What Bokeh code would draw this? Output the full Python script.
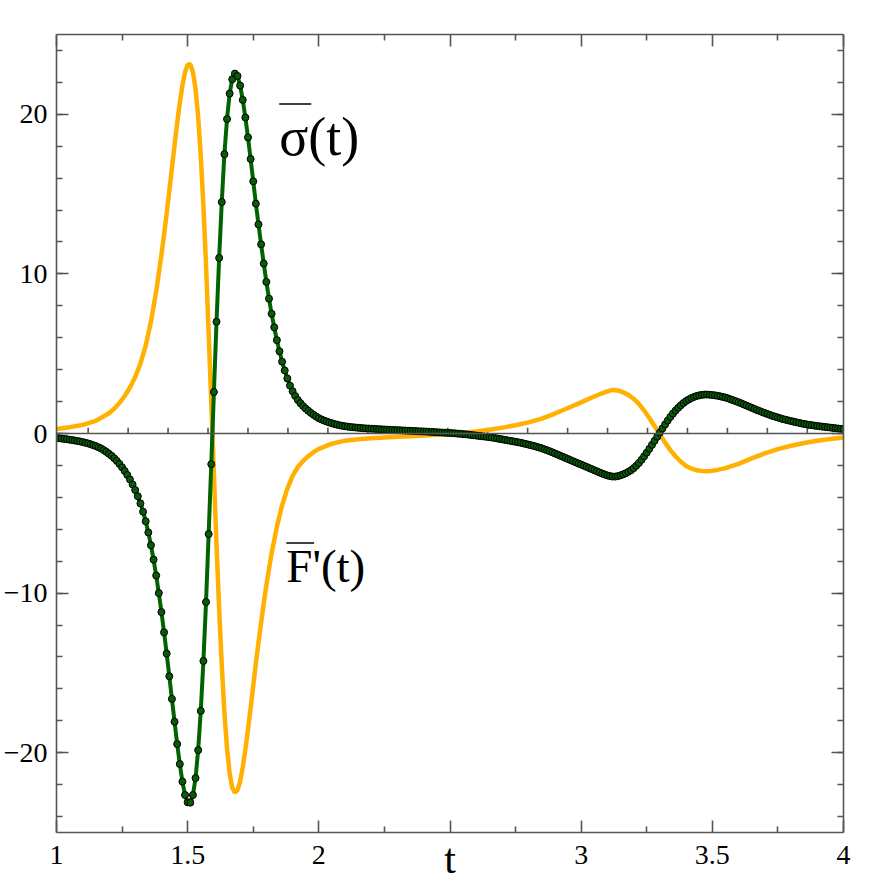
from bokeh.plotting import figure
from bokeh.models import Range1d, LinearAxis, FixedTicker, Span, Label, ColumnDataSource
from bokeh.embed import file_html
from bokeh.resources import INLINE

# ---- data ----
# green series (dots every 0.01 in t)
green_t = [round(1.0 + 0.01 * i, 2) for i in range(301)]
green_y = [
    -0.28, -0.30, -0.32, -0.34, -0.36, -0.39, -0.41, -0.44, -0.47, -0.50,
    -0.54, -0.58, -0.62, -0.67, -0.73, -0.79, -0.86, -0.94, -1.04, -1.15,
    -1.27, -1.40, -1.55, -1.72, -1.91, -2.12, -2.35, -2.60, -2.88, -3.19,
    -3.54, -3.93, -4.38, -4.90, -5.50, -6.20, -7.00, -7.90, -8.90, -10.00,
    -11.19, -12.46, -13.79, -15.21, -16.63, -18.06, -19.46, -20.71, -21.81, -22.65,
    -23.11, -23.13, -22.65, -21.59, -19.84, -17.38, -14.25, -10.56, -6.30, -1.92,
    2.60, 7.00, 11.00, 14.50, 17.50, 19.70, 21.30, 22.20, 22.55, 22.40,
    21.80, 20.90, 19.80, 18.55, 17.20, 15.80, 14.40, 13.10, 11.85, 10.65,
    9.50, 8.45, 7.50, 6.65, 5.85, 5.15, 4.50, 3.95, 3.45, 3.00,
    2.65, 2.35, 2.10, 1.90, 1.72, 1.56, 1.42, 1.29, 1.17, 1.06,
    0.96, 0.88, 0.81, 0.75, 0.69, 0.64, 0.59, 0.55, 0.51, 0.48,
    0.45, 0.43, 0.41, 0.39, 0.375, 0.36, 0.345, 0.33, 0.32, 0.31,
    0.30, 0.29, 0.28, 0.27, 0.26, 0.25, 0.24, 0.23, 0.22, 0.215,
    0.21, 0.20, 0.19, 0.185, 0.175, 0.17, 0.16, 0.15, 0.14, 0.135,
    0.13, 0.12, 0.11, 0.10, 0.09, 0.08, 0.07, 0.06, 0.05, 0.04,
    0.03, 0.02, 0.01, -0.01, -0.02, -0.04, -0.05, -0.07, -0.09, -0.11,
    -0.13, -0.15, -0.17, -0.19, -0.21, -0.23, -0.25, -0.28, -0.31, -0.34,
    -0.37, -0.40, -0.43, -0.46, -0.49, -0.52, -0.55, -0.58, -0.62, -0.66,
    -0.70, -0.74, -0.78, -0.83, -0.88, -0.93, -0.99, -1.05, -1.11, -1.18,
    -1.25, -1.32, -1.39, -1.46, -1.53, -1.60, -1.67, -1.74, -1.81, -1.88,
    -1.95, -2.02, -2.09, -2.16, -2.23, -2.30, -2.37, -2.44, -2.51, -2.57,
    -2.63, -2.67, -2.70, -2.70, -2.67, -2.62, -2.56, -2.49, -2.40, -2.30,
    -2.17, -2.02, -1.85, -1.65, -1.43, -1.20, -0.96, -0.71, -0.46, -0.20,
    0.06, 0.32, 0.57, 0.81, 1.04, 1.25, 1.44, 1.61, 1.77, 1.91,
    2.03, 2.13, 2.22, 2.29, 2.35, 2.39, 2.42, 2.44, 2.44, 2.43,
    2.41, 2.39, 2.36, 2.33, 2.29, 2.25, 2.20, 2.14, 2.08, 2.02,
    1.96, 1.89, 1.82, 1.75, 1.68, 1.61, 1.54, 1.47, 1.41, 1.34,
    1.28, 1.22, 1.16, 1.10, 1.05, 1.00, 0.95, 0.90, 0.86, 0.82,
    0.78, 0.74, 0.70, 0.67, 0.63, 0.60, 0.57, 0.54, 0.52, 0.49,
    0.47, 0.45, 0.43, 0.41, 0.39, 0.37, 0.35, 0.33, 0.31, 0.29,
    0.27,
]

# orange series (plain line)
orange_t = [
    1.00, 1.05, 1.10, 1.15, 1.20, 1.22, 1.24, 1.26, 1.28, 1.30,
    1.32, 1.34, 1.36, 1.38, 1.40, 1.41, 1.42, 1.43, 1.44, 1.45,
    1.46, 1.47, 1.48, 1.49, 1.50, 1.51, 1.52, 1.53, 1.54, 1.55,
    1.56, 1.57, 1.58, 1.59, 1.60, 1.61, 1.62, 1.63, 1.64, 1.65,
    1.66, 1.67, 1.68, 1.69, 1.70, 1.71, 1.72, 1.73, 1.74, 1.75,
    1.76, 1.77, 1.78, 1.79, 1.80, 1.82, 1.84, 1.86, 1.88, 1.90,
    1.92, 1.94, 1.96, 1.98, 2.00, 2.05, 2.10, 2.15, 2.20, 2.25,
    2.30, 2.35, 2.40, 2.45, 2.50, 2.55, 2.60, 2.65, 2.70, 2.75,
    2.80, 2.85, 2.90, 2.95, 3.00, 3.05, 3.08, 3.10, 3.12, 3.14,
    3.16, 3.18, 3.20, 3.22, 3.24, 3.26, 3.28, 3.30, 3.32, 3.34,
    3.36, 3.38, 3.40, 3.42, 3.44, 3.46, 3.48, 3.50, 3.52, 3.55,
    3.60, 3.65, 3.70, 3.75, 3.80, 3.85, 3.90, 3.95, 4.00,
]
orange_y = [
    0.28, 0.39, 0.54, 0.79, 1.27, 1.55, 1.91, 2.35, 2.88, 3.54,
    4.38, 5.50, 7.00, 8.90, 11.19, 12.46, 13.79, 15.21, 16.63, 18.06,
    19.46, 20.71, 21.81, 22.65, 23.11, 23.13, 22.65, 21.59, 19.84, 17.38,
    14.25, 10.56, 6.30, 1.92, -2.60, -7.00, -11.00, -14.50, -17.50, -19.70,
    -21.30, -22.20, -22.50, -22.35, -21.80, -20.90, -19.80, -18.55, -17.20, -15.80,
    -14.40, -13.10, -11.85, -10.65, -9.50, -7.50, -5.85, -4.50, -3.45, -2.65,
    -2.10, -1.72, -1.42, -1.17, -0.96, -0.64, -0.45, -0.36, -0.30, -0.25,
    -0.21, -0.17, -0.13, -0.08, -0.03, 0.04, 0.13, 0.23, 0.37, 0.52,
    0.70, 0.93, 1.25, 1.60, 1.95, 2.32, 2.52, 2.64, 2.73, 2.70,
    2.58, 2.42, 2.18, 1.86, 1.44, 0.97, 0.46, -0.06, -0.57, -1.04,
    -1.44, -1.77, -2.03, -2.20, -2.30, -2.35, -2.36, -2.33, -2.28, -2.17,
    -1.90, -1.56, -1.25, -0.98, -0.77, -0.60, -0.46, -0.35, -0.25,
]

x_major = [1, 1.5, 2, 2.5, 3, 3.5, 4]
x_minor = [1.25, 1.75, 2.25, 2.75, 3.25, 3.75]
x_labels = {1: "1", 1.5: "1.5", 2: "2", 2.5: "", 3: "3", 3.5: "3.5", 4: "4"}
y_major = [-20, -10, 0, 10, 20]
y_minor = list(range(-24, 25, 2))
y_labels = {-20: "\u221220", -10: "\u221210", 0: "0", 10: "10", 20: "20"}
zero_ticks = [1.1207 + 0.1523 * k for k in range(19)]

AX = "#555555"
FONT = "Liberation Serif"

p = figure(width=886, height=886, x_range=Range1d(1, 4), y_range=Range1d(-25, 25),
           output_backend="svg", toolbar_location=None,
           x_axis_location=None, y_axis_location=None,
           min_border_left=55, min_border_right=43, min_border_top=34, min_border_bottom=54)
p.grid.grid_line_color = None
p.outline_line_color = None
p.background_fill_color = "white"
p.border_fill_color = "white"


def make_axis(major, minor, labels, show, standoff=9):
    ax = LinearAxis(ticker=FixedTicker(ticks=major, minor_ticks=minor))
    ax.axis_line_color = AX
    ax.axis_line_width = 1.6
    ax.major_tick_line_color = AX
    ax.minor_tick_line_color = AX
    ax.major_tick_line_width = 1.6
    ax.minor_tick_line_width = 1.6
    ax.major_tick_in = 12
    ax.major_tick_out = 0
    ax.minor_tick_in = 6
    ax.minor_tick_out = 0
    if show:
        ax.major_label_overrides = labels
        ax.major_label_text_font = FONT
        ax.major_label_text_font_size = "28px"
        ax.major_label_text_color = "black"
        ax.major_label_standoff = standoff
    else:
        ax.major_label_overrides = {k: "" for k in labels}
        ax.major_label_text_font_size = "0px"
        ax.major_label_standoff = 0
    return ax


bottom = make_axis(x_major, x_minor, x_labels, True, standoff=13)
bottom.axis_label = "t"
bottom.axis_label_text_font = FONT
bottom.axis_label_text_font_size = "42px"
bottom.axis_label_text_font_style = "normal"
bottom.axis_label_text_color = "black"
bottom.axis_label_standoff = -31
p.add_layout(bottom, "below")
p.add_layout(make_axis(x_major, x_minor, x_labels, False), "above")
p.add_layout(make_axis(y_major, y_minor, y_labels, True), "left")
p.add_layout(make_axis(y_major, y_minor, y_labels, False), "right")

# zero line with its small ticks
p.add_layout(Span(location=0, dimension="width", line_color=AX, line_width=1.6))
p.segment(x0=zero_ticks, y0=[0] * len(zero_ticks), x1=zero_ticks, y1=[0.36] * len(zero_ticks),
          line_color=AX, line_width=1.6)

orange_src = ColumnDataSource(dict(t=orange_t, y=orange_y))
green_src = ColumnDataSource(dict(t=green_t, y=green_y))

p.line("t", "y", source=orange_src, line_color="#ffb000", line_width=4.5)
p.line("t", "y", source=green_src, line_color="#006400", line_width=4)
p.scatter("t", "y", source=green_src, size=7, fill_color="#0b5a0b", line_color="black", line_width=1)

# annotations
p.add_layout(Label(x=1.849, y=18.6, text="\u03c3(t)", text_font=FONT, text_font_size="54px",
                   text_baseline="alphabetic", text_color="black"))
p.segment(x0=[1.849], y0=[20.64], x1=[1.971], y1=[20.64], line_color="black", line_width=1.5)
p.add_layout(Label(x=1.876, y=-8.3, text="F'(t)", text_font=FONT, text_font_size="47px",
                   text_baseline="alphabetic", text_color="black"))
p.segment(x0=[1.876], y0=[-6.86], x1=[1.982], y1=[-6.86], line_color="black", line_width=1.5)

open("out.html", "w").write(file_html(p, INLINE))
